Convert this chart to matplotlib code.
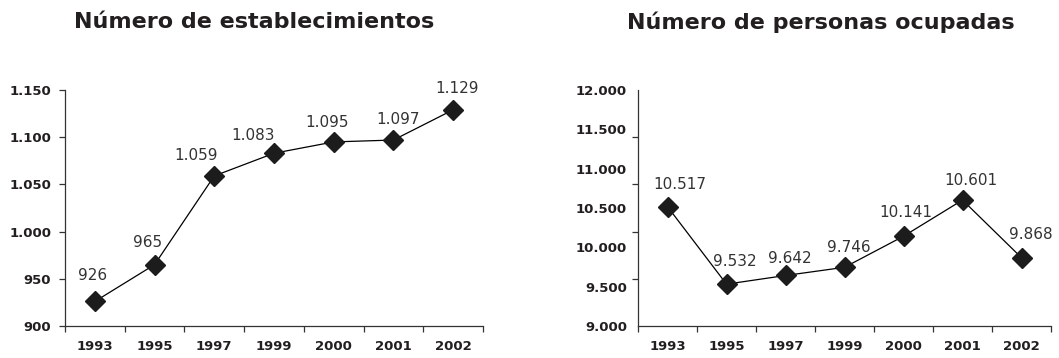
import matplotlib
matplotlib.use("Agg")
import matplotlib.pyplot as plt
from matplotlib.ticker import FixedLocator

years = ["1993", "1995", "1997", "1999", "2000", "2001", "2002"]
establecimientos = [926, 965, 1059, 1083, 1095, 1097, 1129]
personas = [10517, 9532, 9642, 9746, 10141, 10601, 9868]

title_left = "Número de establecimientos"
title_right = "Número de personas ocupadas"

left_ticks = [900, 950, 1000, 1050, 1100, 1150]
right_ticks = [9000, 9500, 10000, 10500, 11000, 11500, 12000]

# label offsets (points) for value annotations
left_offsets = [(-2, 19), (-5, 16), (-13, 15), (-15, 13), (-5, 14), (3, 15), (3, 15)]
right_offsets = [(9, 16), (6, 16), (3, 12), (3, 14), (2, 17), (6, 14), (7, 17)]

TXT = "#231f20"
fig = plt.figure(figsize=(10.59, 3.58), dpi=100)
plt.rcParams['font.family'] = ['DejaVu Sans']


def fmt(v):
    return f"{v:,}".replace(",", ".")


def make(ax, vals, ticks, offsets, minor_y):
    x = list(range(len(vals)))
    ax.plot(x, vals, color="black", lw=0.9, marker="D", markersize=10.5,
            markerfacecolor="#1c1c1c", markeredgecolor="#1c1c1c", zorder=3, clip_on=False)
    ax.set_xlim(-0.5, len(vals) - 0.5)
    ax.set_ylim(ticks[0], ticks[-1])
    for s in ("top", "right"):
        ax.spines[s].set_visible(False)
    for s in ("left", "bottom"):
        ax.spines[s].set_color("#333333")
        ax.spines[s].set_linewidth(0.9)
    ax.set_xticks(x)
    ax.set_xticklabels(years, fontsize=9.5, fontweight="bold", color=TXT)
    ax.xaxis.set_minor_locator(FixedLocator([i - 0.5 for i in range(len(vals) + 1)]))
    ax.tick_params(axis="x", which="major", length=0, pad=10)
    ax.tick_params(axis="x", which="minor", length=4, direction="out", color="#333333", width=0.9)
    ax.set_yticks(ticks)
    ax.set_yticklabels([fmt(t) for t in ticks], fontsize=9.5, fontweight="bold", color=TXT)
    if minor_y is None:
        ax.tick_params(axis="y", which="major", length=4, color="#333333", width=0.9, pad=6)
    else:
        ax.yaxis.set_minor_locator(FixedLocator(minor_y))
        ax.tick_params(axis="y", which="major", length=0, pad=8)
        ax.tick_params(axis="y", which="minor", length=4.5, color="#333333", width=0.9)
    for xi, v, (dx, dy) in zip(x, vals, offsets):
        ax.annotate(fmt(v), (xi, v), xytext=(dx, dy), textcoords="offset points",
                    ha="center", va="center", fontsize=11, color="#333333")


ax1 = fig.add_axes([65 / 1059, 1 - 326 / 358, (483 - 65) / 1059, (326 - 90) / 358])
make(ax1, establecimientos, left_ticks, left_offsets, None)

ax2 = fig.add_axes([638 / 1059, 1 - 326 / 358, (1051 - 638) / 1059, (326 - 90) / 358])
make(ax2, personas, right_ticks, right_offsets, [9000, 9600, 10200, 10800, 11400, 12000])

fig.text(254 / 1059, 1 - 22 / 358, title_left, ha="center", va="center",
         fontsize=16, fontweight="bold", color=TXT)
fig.text(821 / 1059, 1 - 22 / 358, title_right, ha="center", va="center",
         fontsize=16, fontweight="bold", color=TXT)

fig.savefig("out.png", dpi=100)
